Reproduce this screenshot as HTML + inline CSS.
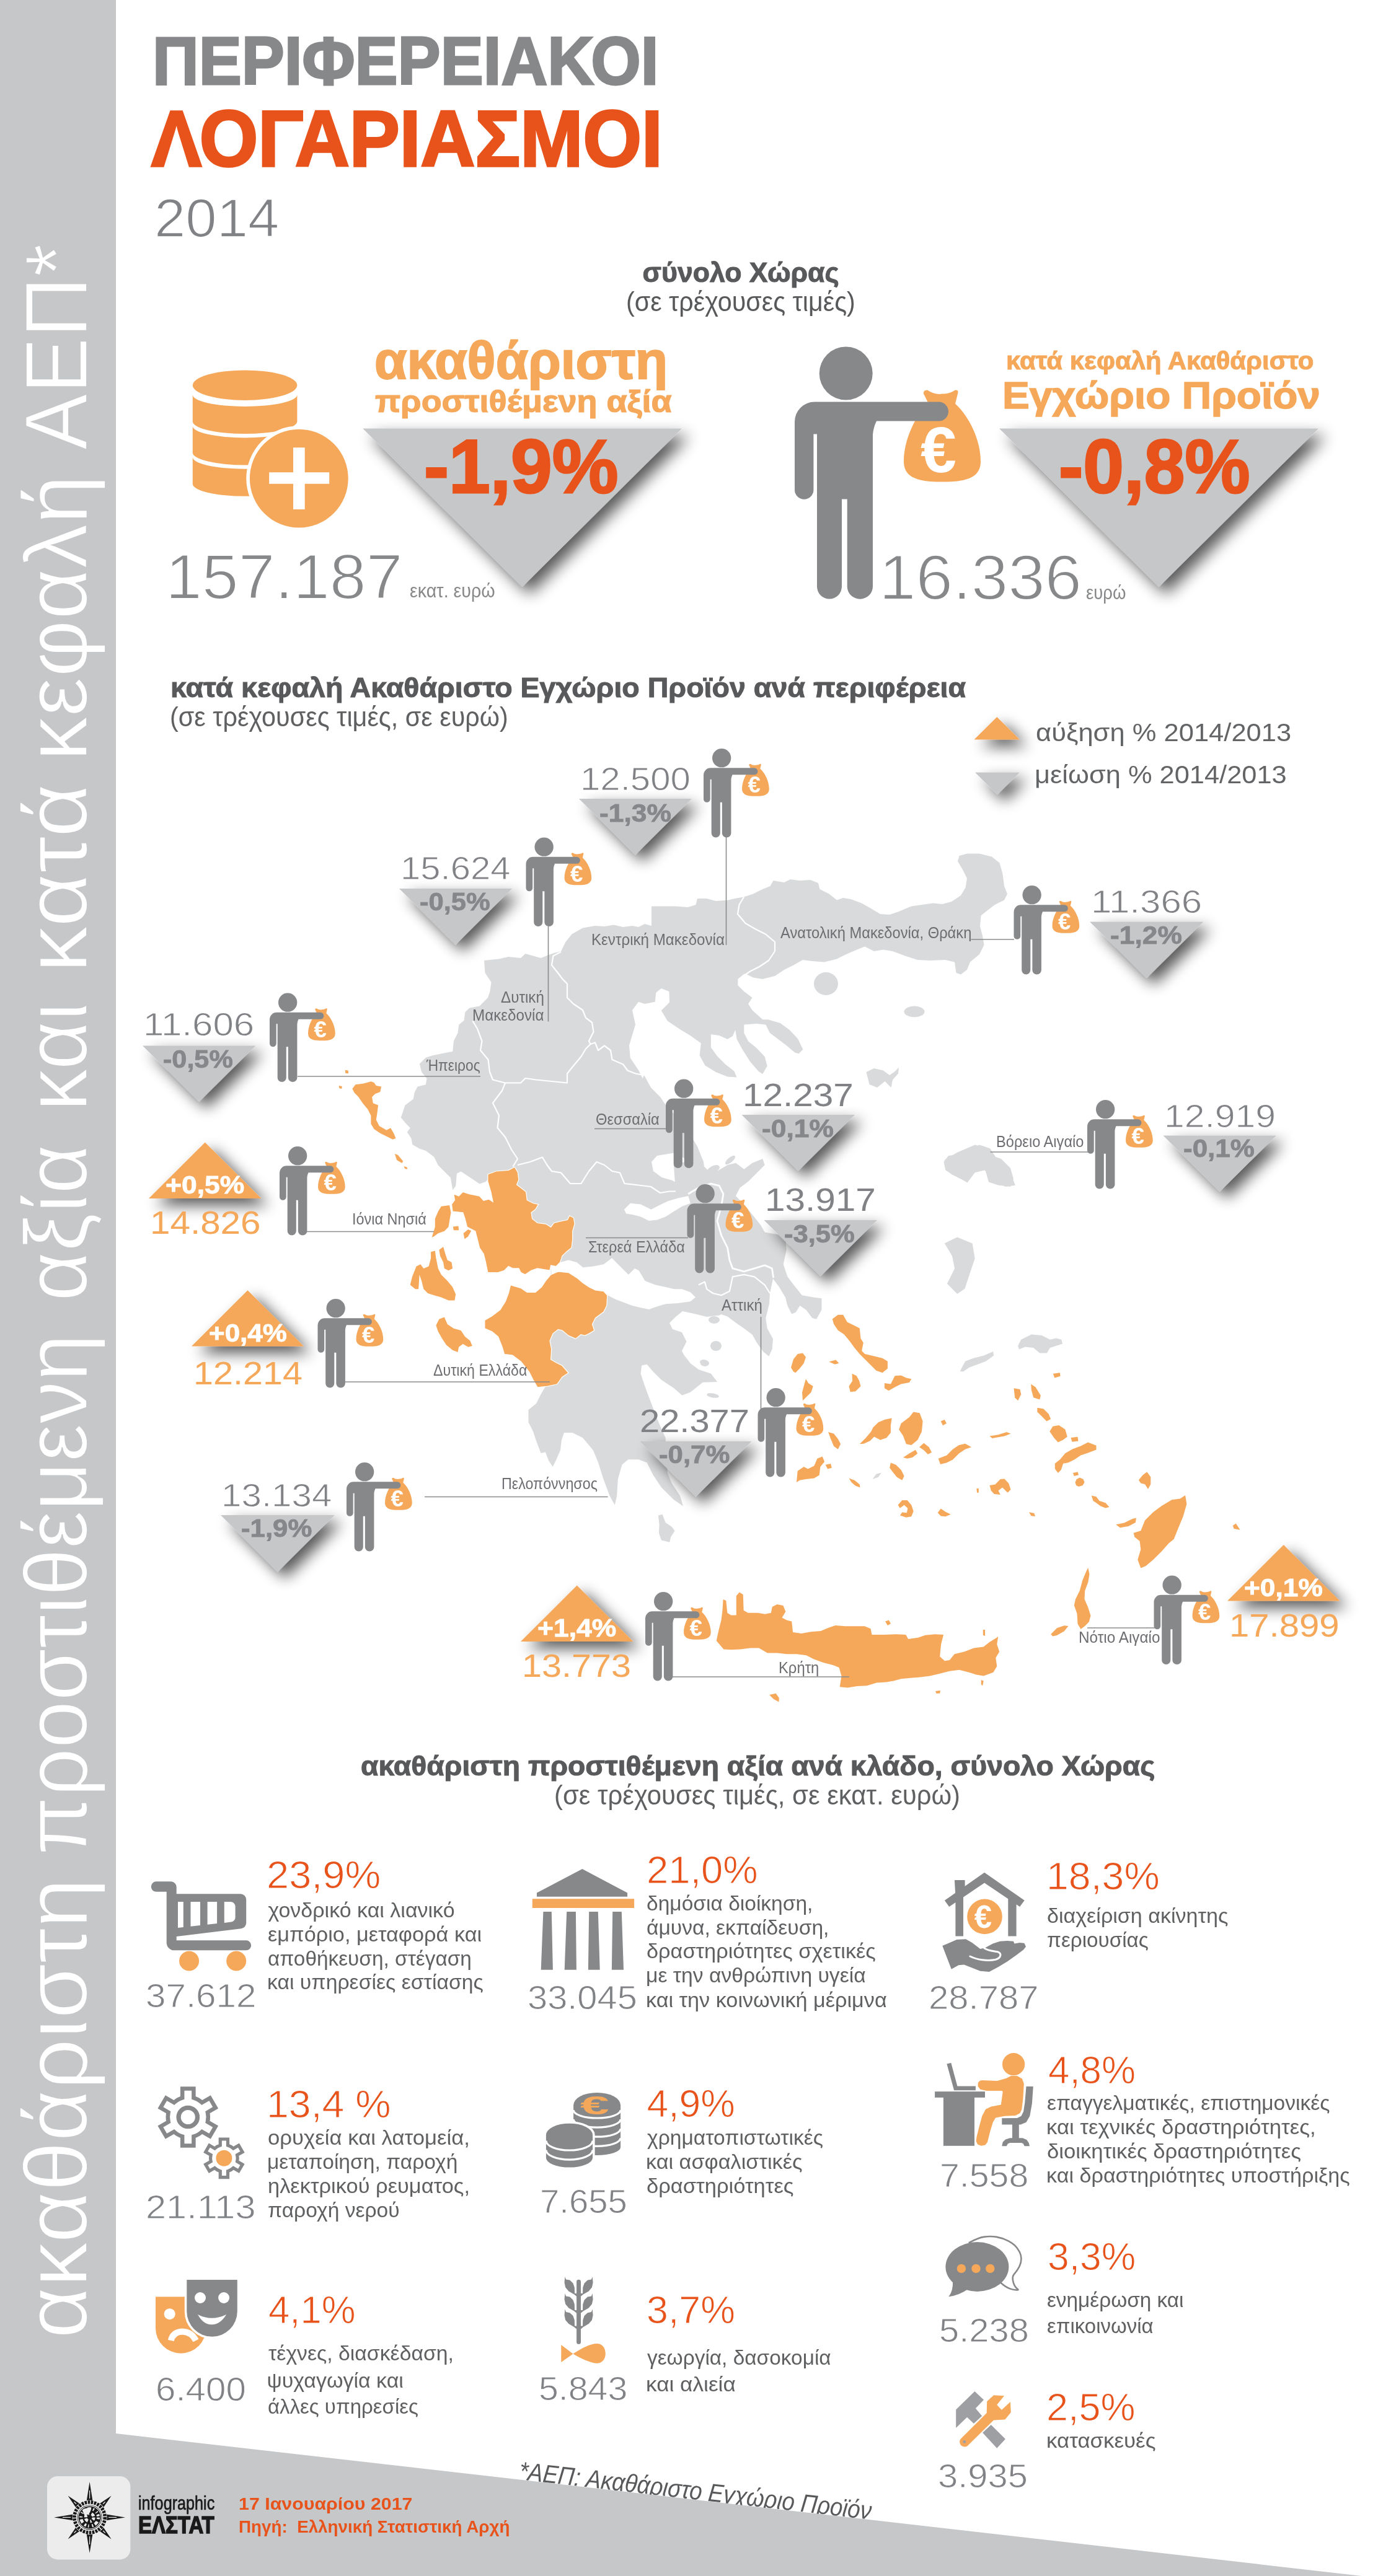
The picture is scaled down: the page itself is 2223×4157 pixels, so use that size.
<!DOCTYPE html>
<html lang="el"><head><meta charset="utf-8"><title>Περιφερειακοί Λογαριασμοί 2014</title>
<style>
html,body{margin:0;padding:0;background:#fff;}
body{width:2223px;height:4157px;position:relative;overflow:hidden;font-family:"Liberation Sans",sans-serif;}
.t{position:absolute;white-space:nowrap;line-height:1;transform-origin:0 0;font-family:"Liberation Sans",sans-serif;}
svg{position:absolute;left:0;top:0;}
.ly{position:absolute;left:0;top:0;width:2223px;height:4157px;will-change:transform;}
.side{position:absolute;white-space:nowrap;line-height:1;font-family:"Liberation Sans",sans-serif;color:#fff;transform-origin:0 0;}
</style></head><body>
<div class="ly"><div class="t" style="left:840.2px;top:3967.3px;font-size:41px;color:#58595b;font-style:italic;transform:rotate(6.53deg) scaleX(0.8925);">*ΑΕΠ: Ακαθάριστο Εγχώριο Προϊόν</div></div>
<svg width="2223" height="4157" viewBox="0 0 2223 4157">
<defs>
<filter id="sh1" x="-50%" y="-80%" width="220%" height="290%"><feGaussianBlur in="SourceAlpha" stdDeviation="12.5"/><feOffset dx="11.5" dy="11"/><feComponentTransfer><feFuncA type="linear" slope="0.66"/></feComponentTransfer><feMerge><feMergeNode/><feMergeNode in="SourceGraphic"/></feMerge></filter>
<filter id="sh2" x="-30%" y="-30%" width="170%" height="170%"><feGaussianBlur in="SourceAlpha" stdDeviation="13"/><feOffset dx="12" dy="11.5"/><feComponentTransfer><feFuncA type="linear" slope="0.66"/></feComponentTransfer><feMerge><feMergeNode/><feMergeNode in="SourceGraphic"/></feMerge></filter>

<symbol id="pers" overflow="visible">
  <path fill="#f6a85a" d="M176 185 C176 150 195 110 216 92 L208 76 Q207 70 214 70 Q226 78 238 76 Q250 76 259 70 Q265 69 263 76 L259 92 C281 112 300 150 300 185 C300 212 276 218 238 218 C200 218 176 212 176 185Z"/>
  <text x="232" y="202" font-family="Liberation Sans, sans-serif" font-weight="700" font-size="104" fill="#fff" text-anchor="middle">€</text>
  <circle cx="82.7" cy="43" r="43" fill="#87888a"/>
  <path fill="#87888a" d="M0 121 A32 32 0 0 1 32 89 H232.5 A15.5 15.5 0 0 1 232.5 120 H132 Q127 130 126 142 V387 A20.6 20 0 0 1 84.7 387 V246 H76 V387 A20 20 0 0 1 36 387 V141 H30.4 V231 A15.2 15.2 0 0 1 0 231 Z"/>
</symbol></defs>
<path fill="#c6c7c9" d="M0 0 H187 V3927 L2223 4160 V4157 H0Z"/>
<path d="M781.0 1550.0 L805.0 1547.5 L820.0 1544.0 L840.0 1546.0 L847.5 1539.0 L860.0 1542.5 L872.5 1546.0 L885.0 1541.0 L895.0 1537.5 L905.0 1535.0 L912.5 1520.0 L922.5 1507.5 L940.0 1497.5 L960.0 1494.0 L975.0 1495.0 L990.0 1492.5 L1005.0 1496.0 L1020.0 1494.0 L1030.0 1496.0 L1040.0 1491.0 L1051.0 1494.0 L1051.0 1462.5 L1090.0 1462.5 L1110.0 1464.0 L1122.5 1460.0 L1125.0 1450.0 L1140.0 1450.0 L1155.0 1454.0 L1175.0 1452.5 L1185.0 1450.0 L1200.0 1447.5 L1215.0 1442.5 L1230.0 1435.0 L1242.5 1430.0 L1247.5 1421.0 L1265.0 1424.0 L1275.0 1419.0 L1290.0 1421.0 L1307.5 1420.0 L1320.0 1425.0 L1322.5 1435.0 L1337.5 1442.5 L1350.0 1452.5 L1360.0 1449.0 L1372.5 1451.0 L1390.0 1457.5 L1405.0 1466.0 L1420.0 1475.0 L1435.0 1476.0 L1450.0 1471.0 L1470.0 1462.5 L1487.5 1460.0 L1505.0 1457.5 L1520.0 1459.0 L1535.0 1455.0 L1550.0 1445.0 L1557.5 1432.5 L1560.0 1417.5 L1552.5 1402.5 L1545.0 1390.0 L1547.5 1381.0 L1560.0 1377.5 L1580.0 1377.5 L1600.0 1382.5 L1612.5 1392.5 L1617.5 1410.0 L1620.0 1430.0 L1625.0 1442.5 L1620.0 1452.5 L1605.0 1460.0 L1595.0 1467.5 L1582.5 1477.5 L1581.0 1495.0 L1585.0 1510.0 L1587.5 1525.0 L1580.0 1540.0 L1565.0 1552.5 L1560.0 1565.0 L1550.0 1572.5 L1542.5 1570.0 L1540.0 1552.5 L1525.0 1549.0 L1500.0 1550.0 L1480.0 1549.0 L1460.0 1542.5 L1440.0 1535.0 L1425.0 1532.5 L1410.0 1535.0 L1395.0 1527.5 L1382.5 1532.5 L1365.0 1540.0 L1350.0 1547.5 L1330.0 1552.5 L1310.0 1551.0 L1295.0 1549.0 L1280.0 1557.5 L1265.0 1565.0 L1250.0 1575.0 L1230.0 1580.0 L1215.0 1577.5 L1200.0 1570.0 L1248.7 1536.7 L1243.7 1553.4 L1230.3 1560.1 L1217.0 1570.1 L1200.3 1571.7 L1190.3 1580.1 L1190.3 1590.1 L1200.3 1600.1 L1213.6 1610.1 L1207.0 1620.1 L1213.6 1630.2 L1230.3 1645.2 L1238.7 1645.2 L1258.7 1650.9 L1273.7 1661.9 L1287.1 1676.2 L1295.4 1693.6 L1288.7 1700.3 L1282.1 1698.6 L1270.4 1688.6 L1255.4 1676.9 L1242.0 1666.9 L1235.3 1653.5 L1220.3 1651.9 L1200.3 1653.5 L1200.3 1666.9 L1207.0 1680.2 L1220.3 1690.9 L1233.7 1705.3 L1237.7 1720.3 L1230.3 1733.0 L1224.3 1729.6 L1210.3 1713.6 L1197.6 1693.6 L1188.6 1676.9 L1186.3 1661.9 L1181.9 1671.9 L1173.6 1676.9 L1160.2 1670.9 L1146.9 1669.2 L1146.9 1690.2 L1156.9 1704.3 L1170.2 1717.6 L1184.3 1728.6 L1188.6 1738.6 L1173.6 1737.6 L1155.2 1730.3 L1137.5 1719.6 L1128.5 1702.9 L1130.9 1683.6 L1113.5 1670.9 L1096.8 1660.9 L1076.8 1647.5 L1066.8 1630.8 L1080.1 1617.5 L1079.4 1600.1 L1066.8 1595.1 L1058.4 1601.8 L1056.7 1616.8 L1040.1 1620.1 L1030.0 1616.8 L1020.0 1630.2 L1025.0 1653.5 L1015.0 1686.9 L1016.7 1706.9 L1030.0 1727.0 L1036.7 1740.3 L1039.0 1735.0 L1050.0 1755.0 L1065.0 1770.0 L1075.0 1785.0 L1090.0 1800.0 L1110.0 1825.0 L1125.0 1850.0 L1135.0 1875.0 L1137.5 1895.0 L1125.0 1902.5 L1115.0 1890.0 L1105.0 1870.0 L1090.0 1860.0 L1075.0 1862.5 L1060.0 1865.0 L1051.0 1875.0 L1054.0 1890.0 L1067.5 1900.0 L1085.0 1905.0 L1097.5 1912.5 L1090.0 1922.5 L1086.8 1880.0 L1110.2 1873.4 L1133.5 1880.0 L1146.9 1893.4 L1156.9 1890.0 L1173.6 1880.0 L1186.9 1876.7 L1200.3 1886.7 L1213.6 1876.7 L1230.3 1870.0 L1233.7 1880.0 L1220.3 1893.4 L1207.0 1906.7 L1193.6 1916.7 L1186.9 1930.1 L1200.3 1943.5 L1213.6 1960.1 L1227.0 1976.8 L1233.7 1988.5 L1253.7 1991.9 L1267.0 1993.5 L1268.7 2016.9 L1263.7 2040.3 L1270.4 2060.3 L1280.4 2073.6 L1293.8 2090.3 L1313.8 2093.7 L1325.5 2095.3 L1325.5 2113.7 L1317.1 2128.7 L1310.4 2127.0 L1300.4 2113.7 L1290.4 2107.0 L1283.7 2117.7 L1277.1 2120.4 L1270.4 2107.0 L1267.0 2093.7 L1257.0 2077.0 L1247.0 2063.6 L1242.0 2087.0 L1241.0 2103.7 L1235.3 2127.0 L1237.7 2143.7 L1247.0 2160.4 L1245.7 2177.1 L1240.3 2188.8 L1231.0 2181.1 L1221.0 2167.1 L1213.6 2153.8 L1200.3 2143.7 L1186.9 2134.4 L1173.6 2124.4 L1163.6 2121.0 L1153.6 2125.4 L1160.0 2122.5 L1140.0 2125.0 L1120.0 2120.0 L1101.0 2116.0 L1090.0 2125.0 L1080.0 2135.0 L1085.0 2145.0 L1100.0 2150.0 L1107.5 2165.0 L1100.0 2180.0 L1107.5 2195.0 L1100.3 2180.0 L1103.7 2186.7 L1113.7 2200.0 L1127.0 2210.0 L1147.0 2216.7 L1157.1 2230.1 L1133.7 2230.7 L1113.7 2246.8 L1100.3 2251.8 L1087.0 2240.1 L1066.9 2226.7 L1053.6 2213.4 L1043.6 2201.7 L1035.2 2203.4 L1033.6 2216.7 L1040.2 2236.7 L1050.2 2263.5 L1060.3 2290.2 L1073.6 2320.2 L1076.9 2376.9 L1083.6 2393.6 L1097.0 2413.7 L1102.0 2430.4 L1087.0 2420.3 L1066.9 2400.3 L1053.6 2380.3 L1043.6 2360.3 L1030.2 2355.3 L1013.5 2355.3 L1003.5 2363.6 L996.8 2387.0 L995.2 2413.7 L991.8 2428.7 L983.5 2413.7 L973.5 2387.0 L965.1 2360.3 L956.8 2340.2 L940.1 2320.2 L923.4 2311.9 L910.0 2311.9 L906.0 2323.5 L904.0 2340.2 L896.7 2356.9 L891.7 2366.9 L885.0 2356.9 L880.0 2343.6 L872.5 2345.0 L865.0 2325.0 L860.0 2310.0 L852.5 2295.0 L852.5 2275.0 L865.0 2265.0 L872.5 2250.0 L880.0 2237.5 L867.0 2238.8 L860.3 2227.2 L853.6 2213.8 L840.3 2197.1 L826.9 2187.1 L813.6 2185.4 L810.2 2173.8 L803.6 2157.1 L793.6 2148.7 L781.9 2143.7 L781.9 2130.4 L793.6 2123.7 L806.9 2113.7 L815.3 2100.3 L820.3 2087.0 L823.6 2073.6 L840.3 2078.6 L850.3 2085.3 L863.7 2085.3 L873.7 2076.9 L880.3 2066.9 L888.7 2056.9 L888.7 2041.9 L887.0 2050.2 L877.0 2048.6 L867.0 2046.9 L857.0 2050.2 L847.0 2056.9 L840.3 2053.6 L836.9 2046.9 L826.9 2046.9 L820.3 2043.6 L813.6 2050.2 L803.6 2053.6 L786.9 2053.6 L783.5 2036.9 L780.2 2023.5 L773.5 2013.5 L770.2 2000.2 L766.8 1986.8 L753.5 1980.1 L750.2 1966.8 L746.8 1956.8 L730.1 1955.1 L728.5 1943.4 L733.5 1936.7 L731.8 1926.7 L740.1 1930.1 L746.8 1923.4 L756.8 1926.7 L773.5 1930.1 L780.2 1937.4 L788.5 1935.1 L795.2 1939.4 L791.9 1923.4 L786.9 1906.7 L786.9 1895.0 L788.7 1900.4 L783.7 1907.1 L773.7 1910.4 L763.7 1903.8 L753.6 1897.1 L743.6 1890.4 L736.9 1893.8 L735.3 1913.8 L730.3 1920.5 L726.9 1900.4 L716.9 1890.4 L706.9 1880.4 L700.2 1867.0 L686.9 1857.0 L676.9 1853.7 L665.2 1847.0 L663.5 1837.0 L656.8 1827.0 L661.8 1820.3 L655.2 1813.6 L646.8 1803.6 L650.2 1793.6 L653.5 1783.6 L666.8 1773.6 L668.5 1763.6 L673.5 1753.6 L686.9 1750.2 L688.5 1740.2 L680.2 1730.2 L676.9 1716.8 L686.9 1706.8 L696.9 1703.5 L713.6 1700.1 L730.3 1696.8 L731.9 1680.1 L738.6 1666.8 L740.3 1653.4 L748.6 1646.7 L750.3 1633.4 L757.0 1626.7 L773.7 1623.4 L787.0 1610.0 L790.4 1600.0 L792.5 1585.0 L782.5 1570.0Z" fill="#d9dadb" />
<path d="M888.7 2042.6 L897.0 2043.6 L903.7 2036.9 L917.1 2033.6 L930.4 2036.9 L940.4 2045.2 L957.1 2043.6 L973.8 2040.2 L987.2 2030.2 L993.8 2036.9 L1003.9 2046.9 L1013.9 2056.9 L1023.9 2046.9 L1030.6 2050.2 L1040.6 2066.9 L1057.3 2073.6 L1074.0 2076.9 L1087.3 2080.3 L1100.3 2080.3 L1113.7 2085.3 L1122.0 2093.6 L1113.7 2100.3 L1093.7 2103.0 L1073.6 2104.3 L1060.3 2108.3 L1046.9 2113.0 L1033.6 2110.3 L1020.2 2107.0 L1006.9 2102.0 L993.5 2097.0 L980.2 2090.3 L979.8 2091.0 L973.8 2083.6 L960.5 2082.0 L950.4 2076.9 L940.4 2070.3 L930.4 2061.9 L917.1 2053.6 L900.4 2051.9 L889.7 2056.3Z" fill="#fff" />
<path d="M1006.9 1951.8 L1016.9 1941.8 L1033.6 1943.4 L1050.3 1951.8 L1063.6 1945.1 L1077.0 1938.4 L1093.7 1933.4 L1110.4 1930.1 L1113.7 1941.8 L1100.3 1946.8 L1087.0 1955.1 L1073.6 1963.5 L1060.3 1968.5 L1046.9 1970.1 L1033.6 1963.5 L1020.2 1960.1 L1010.2 1958.4Z" fill="#fff" />
<path d="M1110.2 1926.8 L1126.8 1916.7 L1146.9 1910.1 L1160.2 1913.4 L1166.9 1926.8 L1163.6 1946.8 L1156.9 1970.2 L1163.6 1993.5 L1173.6 2013.6 L1176.9 2033.6 L1181.9 2046.9 L1200.3 2051.9 L1217.0 2046.9 L1233.7 2041.9 L1245.4 2046.9 L1247.7 2062.0" fill="none" stroke="#fff" stroke-width="2.8" stroke-linejoin="round"/>
<path d="M786.9 1895.0 L800.2 1890.0 L820.3 1888.3 L830.3 1883.3 L835.3 1891.7 L836.9 1903.4 L833.6 1911.7 L840.3 1916.7 L848.6 1923.4 L850.3 1936.7 L860.3 1941.8 L868.7 1943.4 L863.7 1951.8 L857.0 1956.8 L858.6 1966.8 L867.0 1973.5 L880.3 1975.1 L888.7 1980.1 L893.7 1973.5 L907.0 1970.1 L915.4 1968.5 L918.7 1961.8 L925.4 1965.1 L927.1 1975.1 L923.7 1986.8 L923.7 2000.2 L922.1 2013.5 L913.7 2020.2 L907.0 2026.9 L903.7 2036.9 L897.0 2043.6 L888.7 2041.9 L887.0 2050.2 L877.0 2048.6 L867.0 2046.9 L857.0 2050.2 L847.0 2056.9 L840.3 2053.6 L836.9 2046.9 L826.9 2046.9 L820.3 2043.6 L813.6 2050.2 L803.6 2053.6 L786.9 2053.6 L783.5 2036.9 L780.2 2023.5 L773.5 2013.5 L770.2 2000.2 L766.8 1986.8 L753.5 1980.1 L750.2 1966.8 L746.8 1956.8 L730.1 1955.1 L728.5 1943.4 L733.5 1936.7 L731.8 1926.7 L740.1 1930.1 L746.8 1923.4 L756.8 1926.7 L773.5 1930.1 L780.2 1937.4 L788.5 1935.1 L795.2 1939.4 L791.9 1923.4 L786.9 1906.7Z" fill="#f6a85a" stroke="#fff" stroke-width="1.2"/>
<path d="M823.6 2073.6 L840.3 2078.6 L850.3 2085.3 L863.7 2085.3 L873.7 2076.9 L880.3 2066.9 L888.7 2056.9 L900.4 2051.9 L917.1 2053.6 L930.4 2061.9 L940.4 2070.3 L950.4 2076.9 L960.5 2082.0 L973.8 2083.6 L979.8 2090.3 L978.8 2107.0 L973.8 2117.0 L960.5 2127.0 L955.5 2137.0 L958.8 2147.0 L950.4 2152.1 L943.8 2155.4 L937.1 2153.7 L928.7 2160.4 L917.1 2155.4 L907.0 2147.0 L900.4 2145.4 L892.0 2152.1 L887.0 2163.7 L889.7 2177.1 L888.7 2193.8 L897.0 2198.8 L907.0 2203.8 L917.1 2215.5 L907.0 2222.2 L898.7 2233.8 L883.7 2237.2 L867.0 2238.8 L860.3 2227.2 L853.6 2213.8 L840.3 2197.1 L826.9 2187.1 L813.6 2185.4 L810.2 2173.8 L803.6 2157.1 L793.6 2148.7 L781.9 2143.7 L781.9 2130.4 L793.6 2123.7 L806.9 2113.7 L815.3 2100.3 L820.3 2087.0Z" fill="#f6a85a" stroke="#fff" stroke-width="1.2"/>
<path d="M905.0 1536.0 L892.5 1542.5 L890.0 1557.5 L900.0 1570.0 L907.5 1580.0 L915.0 1587.5 L915.0 1610.0 L925.0 1620.0 L940.0 1630.0 L945.0 1642.5 L955.0 1650.0 L957.5 1665.0 L950.0 1680.0 L952.5 1685.0" fill="none" stroke="#fff" stroke-width="2.2" stroke-linejoin="round"/>
<path d="M952.5 1685.0 L960.0 1682.5 L965.0 1695.0 L975.0 1687.5 L985.0 1695.0 L987.5 1710.0 L1005.0 1717.5 L1012.5 1727.5 L1025.0 1732.5 L1039.0 1735.0" fill="none" stroke="#fff" stroke-width="2.2" stroke-linejoin="round"/>
<path d="M952.5 1685.0 L945.0 1692.5 L937.5 1705.0 L925.0 1720.0 L915.0 1732.5 L915.0 1747.5 L890.0 1745.0 L865.0 1742.5 L847.5 1740.0 L840.0 1747.5 L815.0 1747.5" fill="none" stroke="#fff" stroke-width="2.2" stroke-linejoin="round"/>
<path d="M762.5 1647.5 L770.0 1660.0 L777.5 1680.0 L775.0 1695.0 L787.5 1710.0 L790.0 1730.0 L795.0 1742.5 L815.0 1747.5" fill="none" stroke="#fff" stroke-width="2.2" stroke-linejoin="round"/>
<path d="M815.0 1747.5 L810.0 1760.0 L795.0 1780.0 L805.0 1800.0 L802.5 1820.0 L815.0 1835.0 L825.0 1855.0 L835.0 1870.0 L827.5 1882.5" fill="none" stroke="#fff" stroke-width="2.2" stroke-linejoin="round"/>
<path d="M835.0 1880.0 L855.0 1875.0 L875.0 1867.5 L882.5 1880.0 L890.0 1890.0 L905.0 1892.5 L920.0 1910.0 L937.5 1910.0 L950.0 1890.0 L962.5 1875.0 L975.0 1880.0 L987.5 1890.0 L1000.0 1892.5 L1007.5 1910.0 L1030.0 1912.5 L1050.0 1915.0 L1065.0 1925.0 L1080.0 1922.5 L1090.0 1922.5" fill="none" stroke="#fff" stroke-width="2.2" stroke-linejoin="round"/>
<path d="M1200.0 1447.5 L1192.5 1460.0 L1190.0 1475.0 L1202.5 1490.0 L1220.0 1500.0 L1235.0 1507.5 L1250.0 1520.0 L1250.0 1535.0 L1240.0 1550.0 L1225.0 1560.0 L1210.0 1567.5 L1192.5 1580.0" fill="none" stroke="#fff" stroke-width="2.2" stroke-linejoin="round"/>
<path d="M1126.8 2073.6 L1136.9 2068.6 L1140.2 2080.3 L1150.2 2087.0 L1163.6 2090.3 L1176.9 2083.7 L1181.9 2060.3 L1200.3 2056.9 L1217.0 2060.3 L1233.7 2073.6 L1242.0 2087.0" fill="none" stroke="#fff" stroke-width="2.2" stroke-linejoin="round"/>
<ellipse cx="1332.5" cy="1587.5" rx="19.5" ry="18.5" fill="#d9dadb" transform="rotate(0 1332.5 1587.5)"/>
<ellipse cx="1475" cy="1632.5" rx="16.5" ry="9" fill="#d9dadb" transform="rotate(0 1475 1632.5)"/>
<path d="M1522.5 1875.0 L1530.0 1865.0 L1550.0 1862.5 L1565.0 1855.0 L1580.0 1847.5 L1595.0 1852.5 L1600.0 1865.0 L1615.0 1870.0 L1630.0 1885.0 L1635.0 1902.5 L1630.0 1915.0 L1610.0 1912.5 L1595.0 1907.5 L1590.0 1890.0 L1580.0 1880.0 L1567.5 1885.0 L1562.5 1900.0 L1550.0 1902.5 L1535.0 1895.0 L1525.0 1887.5Z" fill="#d9dadb" />
<path d="M1397.5 1730.0 L1410.0 1724.0 L1425.0 1727.5 L1435.0 1735.0 L1442.5 1730.0 L1450.0 1722.5 L1449.0 1732.5 L1440.0 1742.5 L1437.5 1755.0 L1427.5 1745.0 L1415.0 1755.0 L1402.5 1750.0 L1400.0 1740.0Z" fill="#d9dadb" />
<path d="M1523.8 2006.4 L1544.2 1996.6 L1568.6 2006.4 L1572.7 2030.8 L1564.5 2055.3 L1556.4 2079.7 L1544.2 2087.9 L1527.9 2071.6 L1540.1 2047.1 L1536.0 2026.8Z" fill="#d9dadb" />
<ellipse cx="1123" cy="1893" rx="9" ry="5" fill="#d9dadb" transform="rotate(-20 1123 1893)"/>
<ellipse cx="1150" cy="1888" rx="12" ry="6" fill="#d9dadb" transform="rotate(-30 1150 1888)"/>
<ellipse cx="1178" cy="1872" rx="10" ry="4" fill="#d9dadb" transform="rotate(-40 1178 1872)"/>
<path d="M1061.9 2445.4 L1068.6 2443.7 L1073.6 2457.1 L1083.6 2463.7 L1088.6 2470.4 L1082.0 2480.4 L1080.3 2488.8 L1066.9 2485.4 L1062.9 2473.8 L1063.6 2460.4Z" fill="#d9dadb" />
<ellipse cx="1152" cy="2130" rx="9" ry="6" fill="#d9dadb" transform="rotate(0 1152 2130)"/>
<ellipse cx="1155" cy="2172" rx="9" ry="8" fill="#d9dadb" transform="rotate(0 1155 2172)"/>
<ellipse cx="1137" cy="2200" rx="7" ry="5" fill="#d9dadb" transform="rotate(0 1137 2200)"/>
<ellipse cx="1135" cy="2198" rx="6" ry="4" fill="#d9dadb" transform="rotate(0 1135 2198)"/>
<ellipse cx="1150" cy="2252" rx="10" ry="3.5" fill="#d9dadb" transform="rotate(10 1150 2252)"/>
<path d="M1523.8 1871.9 L1544.2 1859.7 L1572.7 1847.5 L1597.1 1853.2 L1609.4 1871.9 L1629.7 1892.3 L1637.9 1912.7 L1621.6 1915.1 L1605.3 1904.5 L1589.0 1888.2 L1572.7 1892.3 L1560.5 1908.6 L1540.1 1896.4 L1525.4 1888.2Z" fill="#d9dadb" />
<path d="M1548.7 2212.8 L1557.1 2196.8 L1570.4 2191.8 L1587.1 2187.5 L1602.1 2181.1 L1603.1 2187.5 L1590.4 2196.8 L1577.1 2201.8 L1563.7 2206.8 L1553.7 2213.5Z" fill="#d9dadb" />
<path d="M1642.2 2171.8 L1647.2 2161.8 L1663.9 2153.4 L1680.6 2155.1 L1693.9 2161.8 L1703.9 2159.4 L1712.3 2161.8 L1714.0 2168.4 L1703.9 2171.8 L1693.9 2175.1 L1688.9 2183.5 L1677.2 2183.5 L1667.2 2175.1 L1653.9 2173.4 L1643.9 2177.4Z" fill="#d9dadb" />
<path d="M1155.7 2647.8 L1159.6 2630.1 L1163.5 2614.5 L1165.5 2598.8 L1166.6 2581.1 L1171.3 2583.1 L1173.3 2602.7 L1179.2 2606.6 L1187.8 2606.6 L1187.8 2575.3 L1192.9 2569.4 L1198.8 2573.3 L1199.6 2598.8 L1206.6 2602.7 L1222.3 2602.7 L1234.0 2604.7 L1243.8 2602.7 L1245.8 2592.9 L1253.6 2589.0 L1263.4 2590.9 L1267.4 2600.7 L1261.5 2610.5 L1269.3 2614.5 L1277.2 2616.4 L1279.1 2634.0 L1292.8 2636.0 L1308.5 2633.3 L1324.2 2632.1 L1335.9 2627.0 L1347.7 2623.1 L1363.4 2624.3 L1379.0 2624.3 L1394.7 2624.3 L1404.5 2628.2 L1406.5 2638.0 L1426.1 2638.0 L1445.7 2637.2 L1461.3 2638.0 L1465.2 2645.0 L1480.9 2642.7 L1492.7 2638.7 L1508.4 2637.2 L1522.1 2638.0 L1518.1 2653.6 L1516.2 2673.2 L1524.0 2680.3 L1531.9 2679.1 L1539.7 2669.3 L1555.4 2665.4 L1571.1 2659.5 L1586.7 2657.6 L1596.5 2649.7 L1606.3 2643.8 L1610.2 2641.1 L1608.3 2653.6 L1612.2 2665.4 L1606.3 2675.2 L1608.3 2688.9 L1602.4 2698.7 L1586.7 2704.6 L1575.0 2702.6 L1563.2 2698.7 L1547.5 2694.8 L1531.9 2696.7 L1516.2 2700.7 L1500.5 2704.6 L1484.8 2706.5 L1469.2 2707.7 L1453.5 2709.3 L1441.7 2712.4 L1430.0 2714.4 L1414.3 2715.6 L1398.6 2720.3 L1383.0 2721.0 L1367.3 2723.4 L1354.7 2722.2 L1357.5 2704.6 L1353.6 2690.9 L1343.8 2686.9 L1328.1 2683.0 L1312.4 2677.2 L1300.7 2671.3 L1285.0 2669.3 L1269.3 2669.3 L1253.6 2667.4 L1238.0 2667.4 L1224.3 2659.5 L1210.5 2659.5 L1194.9 2661.5 L1179.2 2662.3 L1167.4 2661.5Z" fill="#f6a85a" />
<path d="M1241.1 2735.1 L1251.7 2732.8 L1256.8 2739.9 L1256.4 2746.5 L1247.8 2741.8Z" fill="#f6a85a" />
<path d="M1428.0 2616.4 L1433.9 2614.5 L1437.0 2620.3 L1431.9 2623.1Z" fill="#f6a85a" />
<path d="M1509.1 2728.9 L1517.0 2728.1 L1516.2 2732.8 L1510.3 2732.8Z" fill="#f6a85a" />
<path d="M1582.8 2710.9 L1586.7 2712.4 L1585.2 2720.3 L1582.8 2718.3Z" fill="#f6a85a" />
<path d="M1585.9 2630.1 L1589.1 2630.1 L1589.1 2639.9 L1585.9 2638.7Z" fill="#f6a85a" />
<path d="M1342.8 2128.4 L1351.8 2121.7 L1360.1 2121.7 L1366.8 2133.4 L1380.1 2140.1 L1386.8 2143.4 L1388.5 2160.1 L1392.8 2166.8 L1390.2 2180.1 L1395.2 2185.1 L1410.2 2188.5 L1423.5 2191.8 L1431.9 2196.8 L1431.9 2208.5 L1423.5 2215.2 L1413.5 2211.8 L1403.5 2201.8 L1393.5 2191.8 L1386.8 2185.1 L1378.5 2175.1 L1370.1 2163.4 L1361.8 2153.4 L1351.8 2146.7 L1345.1 2136.7Z" fill="#f6a85a" />
<path d="M1280.0 2193.5 L1286.7 2185.1 L1295.0 2183.5 L1300.0 2190.1 L1296.7 2200.1 L1290.0 2208.5 L1283.3 2215.2 L1280.0 2213.5 L1276.0 2206.8Z" fill="#f6a85a" />
<path d="M1337.4 2197.5 L1348.4 2194.5 L1353.4 2200.1 L1346.8 2201.8Z" fill="#f6a85a" />
<path d="M1300.0 2225.2 L1304.0 2231.9 L1311.7 2236.9 L1308.4 2246.9 L1301.7 2253.6 L1295.0 2260.2 L1294.0 2246.9 L1296.7 2236.9Z" fill="#f6a85a" />
<path d="M1374.5 2216.8 L1381.8 2220.2 L1386.2 2228.5 L1388.5 2236.9 L1380.1 2245.2 L1371.8 2246.2 L1369.5 2236.9 L1375.1 2228.5Z" fill="#f6a85a" />
<path d="M1426.9 2231.9 L1436.9 2233.5 L1443.6 2220.2 L1453.6 2219.5 L1461.9 2223.5 L1470.3 2225.2 L1466.9 2230.9 L1453.6 2233.5 L1443.6 2238.5 L1433.6 2244.2 L1426.9 2240.2Z" fill="#f6a85a" />
<path d="M1336.1 2311.0 L1345.1 2313.6 L1351.8 2322.0 L1356.1 2330.3 L1351.8 2338.7 L1345.1 2333.7 L1340.1 2322.0Z" fill="#f6a85a" />
<path d="M1408.5 2303.6 L1416.9 2295.3 L1426.9 2290.9 L1438.6 2288.6 L1436.9 2300.3 L1436.9 2312.0 L1430.2 2320.3 L1420.2 2323.7 L1410.2 2318.6 L1403.5 2325.3 L1393.5 2329.7 L1386.8 2330.3 L1396.8 2320.3 L1405.2 2310.3Z" fill="#f6a85a" />
<path d="M1453.6 2296.9 L1466.9 2286.9 L1473.6 2278.6 L1483.6 2280.3 L1488.6 2293.6 L1487.0 2310.3 L1480.3 2323.7 L1470.3 2332.0 L1461.9 2330.3 L1456.9 2317.0 L1450.2 2307.0Z" fill="#f6a85a" />
<path d="M1286.7 2373.7 L1296.7 2367.0 L1303.4 2370.4 L1313.4 2365.4 L1318.4 2353.7 L1326.7 2350.4 L1330.1 2358.7 L1323.4 2367.0 L1321.7 2380.4 L1313.4 2385.4 L1300.0 2387.1 L1290.0 2388.7 L1285.0 2392.1Z" fill="#f6a85a" />
<path d="M1331.7 2363.7 L1340.1 2362.0 L1341.8 2368.7 L1335.1 2370.4Z" fill="#f6a85a" />
<path d="M1369.5 2385.4 L1378.5 2388.7 L1386.8 2395.4 L1387.5 2400.4 L1380.1 2397.8 L1373.5 2392.1Z" fill="#f6a85a" />
<path d="M1436.9 2360.4 L1445.2 2363.7 L1453.6 2372.1 L1458.6 2382.1 L1455.3 2388.7 L1446.9 2383.7 L1440.2 2375.4 L1435.2 2368.7Z" fill="#f6a85a" />
<path d="M1456.9 2352.0 L1466.9 2345.4 L1476.9 2339.7 L1480.3 2345.4 L1471.9 2352.0 L1463.6 2353.7Z" fill="#f6a85a" />
<path d="M1483.0 2335.3 L1490.3 2328.7 L1498.6 2335.3 L1503.0 2343.7 L1497.0 2347.0 L1490.3 2340.3Z" fill="#f6a85a" />
<path d="M1513.7 2353.7 L1527.0 2348.7 L1537.0 2338.7 L1547.0 2332.0 L1557.1 2329.7 L1567.1 2335.3 L1557.1 2338.7 L1547.0 2345.4 L1537.0 2355.4 L1527.0 2360.4 L1517.0 2363.0Z" fill="#f6a85a" />
<path d="M1448.6 2428.8 L1455.3 2421.1 L1463.6 2421.1 L1470.3 2428.8 L1473.6 2438.8 L1470.3 2447.2 L1461.9 2448.8 L1451.9 2445.5 L1455.3 2440.5 L1462.9 2441.2 L1464.3 2433.8 L1458.6 2428.8 L1451.9 2433.8Z" fill="#f6a85a" />
<path d="M1512.7 2441.2 L1517.7 2434.5 L1525.4 2439.8 L1533.7 2443.8 L1525.4 2447.2 L1517.7 2446.5Z" fill="#f6a85a" />
<path d="M1596.5 2397.1 L1605.5 2395.4 L1613.8 2387.1 L1620.5 2386.4 L1627.2 2393.8 L1630.5 2403.8 L1625.5 2408.8 L1617.1 2400.4 L1610.5 2405.4 L1613.8 2412.1 L1603.8 2411.1 L1598.8 2405.4Z" fill="#f6a85a" />
<path d="M1575.4 2402.1 L1578.8 2402.1 L1578.8 2408.8 L1576.1 2408.8Z" fill="#f6a85a" />
<path d="M1517.7 2293.6 L1523.7 2290.9 L1527.0 2296.9 L1521.0 2300.3Z" fill="#f6a85a" />
<path d="M1596.5 2317.6 L1610.5 2315.3 L1623.8 2311.0 L1630.5 2313.6 L1620.5 2317.6 L1600.5 2321.0Z" fill="#f6a85a" />
<path d="M1635.5 2240.2 L1645.5 2241.9 L1647.2 2250.2 L1642.2 2260.2 L1637.2 2255.2Z" fill="#f6a85a" />
<path d="M1663.2 2233.5 L1670.6 2238.5 L1678.9 2251.9 L1677.2 2258.6 L1667.2 2255.2 L1663.9 2243.5Z" fill="#f6a85a" />
<path d="M1698.9 2216.8 L1709.9 2215.2 L1710.6 2220.8 L1701.3 2223.5Z" fill="#f6a85a" />
<path d="M1673.4 2271.7 L1683.4 2273.4 L1691.7 2281.7 L1695.1 2290.1 L1688.4 2293.4 L1680.1 2285.1 L1673.4 2278.4Z" fill="#f6a85a" />
<path d="M1693.4 2310.1 L1698.4 2301.8 L1708.4 2300.1 L1718.4 2306.8 L1721.8 2318.4 L1715.1 2323.5 L1706.8 2327.5 L1700.1 2320.1Z" fill="#f6a85a" />
<path d="M1727.5 2320.1 L1738.5 2318.8 L1739.5 2325.5 L1729.5 2326.8Z" fill="#f6a85a" />
<path d="M1701.8 2361.8 L1710.1 2355.2 L1718.4 2345.2 L1730.1 2338.5 L1743.5 2333.5 L1755.2 2327.5 L1768.5 2332.8 L1768.5 2339.5 L1756.8 2344.1 L1743.5 2348.5 L1733.5 2355.2 L1723.5 2360.2 L1715.1 2361.8 L1711.8 2371.9 L1706.8 2376.9 L1701.8 2370.2Z" fill="#f6a85a" />
<path d="M1734.5 2391.9 L1736.8 2386.9 L1741.8 2384.5 L1747.5 2386.9 L1749.5 2391.9 L1746.8 2396.9 L1740.1 2398.9 L1736.1 2396.9Z" fill="#f6a85a" />
<path d="M1730.8 2376.9 L1738.5 2375.2 L1740.1 2380.2 L1732.8 2381.9Z" fill="#f6a85a" />
<path d="M1760.8 2413.6 L1768.5 2415.3 L1773.5 2421.9 L1783.5 2425.3 L1789.5 2431.9 L1783.5 2433.6 L1775.2 2430.3 L1768.5 2425.3 L1763.5 2421.9Z" fill="#f6a85a" />
<path d="M1836.9 2388.5 L1843.6 2380.2 L1850.3 2375.2 L1856.3 2383.5 L1856.3 2395.2 L1852.0 2402.9 L1847.0 2395.2 L1840.3 2393.6Z" fill="#f6a85a" />
<path d="M1800.2 2460.3 L1813.6 2457.6 L1826.9 2451.0 L1832.9 2449.6 L1831.9 2457.0 L1820.3 2463.0 L1806.9 2465.3Z" fill="#f6a85a" />
<path d="M1912.1 2412.9 L1914.4 2426.9 L1908.7 2447.0 L1900.4 2467.0 L1893.7 2483.7 L1885.4 2490.4 L1873.7 2503.7 L1860.3 2517.1 L1848.6 2527.1 L1840.3 2530.4 L1835.3 2517.1 L1840.3 2500.4 L1838.6 2487.0 L1830.3 2480.3 L1828.6 2473.7 L1840.3 2470.3 L1847.0 2453.6 L1860.3 2440.3 L1873.7 2430.3 L1890.4 2420.3 L1903.7 2418.6Z" fill="#f6a85a" />
<path d="M1988.8 2462.0 L1993.8 2458.6 L2000.5 2468.7 L1990.5 2467.0Z" fill="#f6a85a" />
<path d="M1755.2 2529.7 L1757.5 2540.4 L1755.2 2553.8 L1750.2 2567.1 L1749.5 2580.5 L1755.2 2593.8 L1759.5 2607.2 L1756.8 2617.2 L1750.2 2623.9 L1743.5 2628.9 L1738.5 2620.5 L1737.5 2603.9 L1732.8 2590.5 L1735.1 2580.5 L1741.8 2567.1 L1746.2 2550.4 L1751.8 2537.1Z" fill="#f6a85a" />
<path d="M1695.1 2637.2 L1705.1 2627.2 L1716.8 2623.2 L1723.5 2623.9 L1716.8 2632.2 L1705.1 2638.9 L1698.4 2640.6Z" fill="#f6a85a" />
<path d="M1660.0 2440.3 L1668.4 2442.0 L1670.0 2447.0 L1663.4 2446.3Z" fill="#f6a85a" />
<path d="M568.4 1756.9 L573.4 1750.2 L586.7 1748.5 L598.4 1745.2 L603.4 1746.9 L606.8 1751.9 L615.1 1753.6 L613.4 1761.9 L605.1 1765.2 L600.1 1770.2 L601.8 1780.3 L610.1 1783.6 L608.4 1796.9 L606.8 1807.0 L611.8 1817.0 L623.5 1823.7 L630.1 1820.3 L635.1 1828.7 L638.5 1837.0 L633.5 1838.7 L623.5 1833.7 L613.4 1828.7 L603.4 1822.0 L598.4 1813.6 L598.4 1800.3 L593.4 1790.3 L585.1 1780.3 L578.4 1770.2 L571.7 1763.6Z" fill="#f6a85a" />
<path d="M556.7 1726.8 L561.7 1727.5 L562.0 1732.2 L557.4 1731.9Z" fill="#f6a85a" />
<path d="M546.7 1751.9 L551.7 1752.9 L551.3 1756.9 L547.3 1756.2Z" fill="#f6a85a" />
<path d="M636.8 1862.0 L641.8 1863.7 L650.2 1873.7 L648.5 1877.1 L640.1 1872.1Z" fill="#f6a85a" />
<path d="M651.8 1882.1 L656.8 1883.7 L656.8 1887.1 L652.8 1885.7Z" fill="#f6a85a" />
<path d="M711.8 1946.8 L725.1 1945.1 L727.5 1956.8 L725.1 1970.1 L723.5 1980.1 L716.8 1986.8 L706.8 1990.2 L700.1 1995.2 L696.7 1996.8 L701.8 1980.1 L701.8 1966.8 L706.8 1955.1Z" fill="#f6a85a" />
<path d="M730.8 1979.5 L739.5 1978.5 L740.1 1985.2 L731.8 1985.2Z" fill="#f6a85a" />
<path d="M747.5 1990.2 L755.2 1984.1 L760.2 1986.2 L755.2 1995.2 L749.5 1999.5Z" fill="#f6a85a" />
<path d="M708.4 2016.9 L715.1 2011.9 L718.4 2023.5 L721.8 2033.6 L728.5 2036.9 L730.1 2046.9 L723.5 2050.2 L716.8 2046.9 L715.1 2036.9 L710.1 2026.9Z" fill="#f6a85a" />
<path d="M695.1 2020.2 L701.8 2018.5 L703.4 2030.2 L706.8 2046.9 L711.8 2056.9 L721.8 2066.9 L730.1 2076.9 L735.1 2088.6 L733.5 2098.6 L723.5 2098.6 L711.8 2093.6 L700.1 2090.3 L690.1 2087.0 L683.4 2080.3 L680.1 2066.9 L676.7 2056.9 L675.1 2080.3 L670.0 2080.3 L661.7 2073.6 L665.0 2060.3 L671.7 2043.6 L678.4 2040.2 L683.4 2046.9 L691.7 2043.6 L695.1 2030.2Z" fill="#f6a85a" />
<path d="M703.4 2138.7 L708.4 2128.7 L716.8 2125.4 L721.8 2137.0 L731.8 2143.7 L743.5 2147.0 L750.2 2157.1 L758.5 2163.7 L761.8 2172.1 L755.2 2173.8 L746.8 2168.7 L740.1 2173.8 L738.5 2182.1 L730.1 2178.8 L720.1 2170.4 L713.4 2160.4 L706.8 2148.7Z" fill="#f6a85a" />
<path d="M1407.5 2387.1 L1413.5 2378.7 L1421.9 2376.4 L1416.9 2383.7Z" fill="#d9dadb" />
<g fill="#f6a85a">
<ellipse cx="395.1" cy="621.7" rx="84.3" ry="24.2"/>
<path d="M310.8 637 A84.3 19 0 0 0 479.40000000000003 637 V680 A84.3 20 0 0 1 310.8 680Z"/>
<path d="M310.8 687.4 A84.3 19 0 0 0 479.40000000000003 687.4 V730.4 A84.3 20 0 0 1 310.8 730.4Z"/>
<path d="M310.8 737.8 A84.3 19 0 0 0 479.40000000000003 737.8 V780.8 A84.3 20 0 0 1 310.8 780.8Z"/>
</g>
<circle cx="482.3" cy="772.2" r="85" fill="#fff"/><circle cx="482.3" cy="772.2" r="79.4" fill="#f6a85a"/>
<path fill="#fff" d="M434.2 762.3H531.2V780.8H434.2Z M473 722.3H491.7V822H473Z"/>
<path filter="url(#sh2)" fill="#c6c7c9" d="M585.3 691.5 H1100 L842.65 947.0Z"/>
<path filter="url(#sh2)" fill="#c6c7c9" d="M1612 691.5 H2127 L1869.5 947.2Z"/>
<use href="#pers" transform="translate(1282 559.6) scale(1.0)"/>
<path filter="url(#sh1)" fill="#f6a85a" d="M1571.5 1193.5 H1645 L1608.25 1156.9Z"/>
<path filter="url(#sh1)" fill="#c6c7c9" d="M1573 1246.5 H1645 L1609.0 1282.2Z"/>
<path d="M1171.5 1351 L1171.5 1525" stroke="#8a8c8e" stroke-width="1.6" fill="none"/>
<path d="M884.5 1495 L884.5 1648.5" stroke="#8a8c8e" stroke-width="1.6" fill="none"/>
<path d="M1566.5 1516 L1636 1516" stroke="#8a8c8e" stroke-width="1.6" fill="none"/>
<path d="M480 1737 L775 1737" stroke="#8a8c8e" stroke-width="1.6" fill="none"/>
<path d="M495 1987.5 L700 1987.5" stroke="#8a8c8e" stroke-width="1.6" fill="none"/>
<path d="M556.5 2230 L887 2230" stroke="#8a8c8e" stroke-width="1.6" fill="none"/>
<path d="M685 2415.5 L980.6 2415.5" stroke="#8a8c8e" stroke-width="1.6" fill="none"/>
<path d="M1227.5 2125 L1227.5 2275" stroke="#8a8c8e" stroke-width="1.6" fill="none"/>
<path d="M1084 2706 L1370 2706" stroke="#8a8c8e" stroke-width="1.6" fill="none"/>
<path d="M959 1821.5 L1076 1821.5" stroke="#8a8c8e" stroke-width="1.6" fill="none"/>
<path d="M945 1997.5 L1110 1997.5" stroke="#8a8c8e" stroke-width="1.6" fill="none"/>
<path d="M1597.5 1859 L1756 1859" stroke="#8a8c8e" stroke-width="1.6" fill="none"/>
<path d="M1754 2627 L1863 2627" stroke="#8a8c8e" stroke-width="1.6" fill="none"/>
<path filter="url(#sh1)" fill="#c6c7c9" d="M934 1289 H1116 L1025.0 1379.4Z"/>
<path filter="url(#sh1)" fill="#c6c7c9" d="M644 1434 H826 L735.0 1524.4Z"/>
<path filter="url(#sh1)" fill="#c6c7c9" d="M1758 1487.5 H1941.5 L1849.75 1578.6Z"/>
<path filter="url(#sh1)" fill="#c6c7c9" d="M230 1687.5 H412.5 L321.25 1778.1Z"/>
<path filter="url(#sh1)" fill="#c6c7c9" d="M356 2445 H540 L448.0 2536.4Z"/>
<path filter="url(#sh1)" fill="#c6c7c9" d="M1032.5 2326 H1212.5 L1122.5 2415.4Z"/>
<path filter="url(#sh1)" fill="#c6c7c9" d="M1196.5 1799 H1379 L1287.75 1889.6Z"/>
<path filter="url(#sh1)" fill="#c6c7c9" d="M1232.5 1969 H1415 L1323.75 2059.6Z"/>
<path filter="url(#sh1)" fill="#c6c7c9" d="M1876.5 1832.5 H2059 L1967.75 1923.1Z"/>
<path filter="url(#sh1)" fill="#f6a85a" d="M240 1934 H421.5 L330.75 1843.5Z"/>
<path filter="url(#sh1)" fill="#f6a85a" d="M309 2172.5 H490 L399.5 2082.3Z"/>
<path filter="url(#sh1)" fill="#f6a85a" d="M840 2649 H1021.5 L930.75 2558.5Z"/>
<path filter="url(#sh1)" fill="#f6a85a" d="M1980 2583.5 H2161.5 L2070.75 2493.0Z"/>
<use href="#pers" transform="translate(1135 1208) scale(0.3525)"/>
<use href="#pers" transform="translate(848.5 1351.5) scale(0.3525)"/>
<use href="#pers" transform="translate(1635.5 1429) scale(0.3525)"/>
<use href="#pers" transform="translate(435 1602.5) scale(0.3525)"/>
<use href="#pers" transform="translate(451 1850) scale(0.3525)"/>
<use href="#pers" transform="translate(512.5 2096) scale(0.3525)"/>
<use href="#pers" transform="translate(559 2360) scale(0.3525)"/>
<use href="#pers" transform="translate(1222.5 2240) scale(0.3525)"/>
<use href="#pers" transform="translate(1041 2569) scale(0.3525)"/>
<use href="#pers" transform="translate(1074 1741.5) scale(0.3525)"/>
<use href="#pers" transform="translate(1108.5 1911) scale(0.3525)"/>
<use href="#pers" transform="translate(1754 1775) scale(0.3525)"/>
<use href="#pers" transform="translate(1861.5 2542.5) scale(0.3525)"/>
<g fill="#87888a">
<path d="M252 3036.3 H276 A9 9 0 0 1 284.7 3045 V3056.3 H388 A9.2 9.2 0 0 1 397.2 3065.5 V3103 A9.2 9.2 0 0 1 389 3112.2 L284.7 3125 V3131.3 H397.2 A8 8 0 0 1 397.2 3147.3 H281 A12.3 12.3 0 0 1 268.7 3135 V3052.8 H252 A8.25 8.25 0 0 1 252 3036.3Z"/>
</g>
<path fill="#fff" d="M287 3069 H295.8 V3110 L287 3110.9Z M307.5 3069 H323 V3107 L307.5 3108.7Z M334.6 3069 H350.1 V3104.1 L334.6 3105.8Z M361.8 3069 H372 A7.6 7.6 0 0 1 379.6 3076.6 V3094 A7.6 7.6 0 0 1 373 3101.6 L361.8 3102.9Z"/>
<circle cx="305.1" cy="3164.5" r="16" fill="#f6a85a"/><circle cx="381.2" cy="3164.5" r="16" fill="#f6a85a"/>
<path fill="#87888a" d="M939.3 3016 L1012.1 3054.6 V3060.7 H866 V3054.6Z"/>
<rect x="858.8" y="3064.2" width="164.3" height="14.8" fill="#f6a85a"/>
<path fill="#87888a" d="M876.4 3085.1 H889.8 L891.9 3178.8 H872.7Z"/>
<path fill="#87888a" d="M914.2 3085.1 H928.9 L929.9 3178.8 H910.7Z"/>
<path fill="#87888a" d="M950.2 3085.1 H964.8 L967.7 3178.8 H948.9Z"/>
<path fill="#87888a" d="M988.2 3085.1 H1002.8 L1006 3178.8 H986.9Z"/>
<g fill="#87888a">
<path d="M1588.1 3021.8 L1652.7 3066.8 L1645.1 3076.9 L1588.1 3038.5 L1531.2 3076.9 L1523.9 3066.8Z"/>
<path d="M1539.9 3034.1 H1556.6 V3048 L1554 3052 V3124.5 H1541.4 V3060Z"/>
<path d="M1626.3 3060 H1639.6 V3124.5 H1626.3Z"/>
<path d="M1520.3 3140.1 L1543.5 3129.9 L1558.1 3129.2 L1568.2 3135.0 L1581.3 3145.1 L1588.8 3143.4 L1601.6 3136.4 L1613.2 3132.8 L1624.8 3132.1 L1635.0 3132.8 L1636.4 3136.4 L1645.1 3135.0 L1652.4 3135.7 L1655.0 3141.5 L1650.9 3146.6 L1639.3 3155.3 L1624.8 3165.5 L1610.3 3174.2 L1595.8 3182.1 L1581.3 3180.7 L1566.8 3174.9 L1555.2 3170.5 L1546.4 3171.3 L1534.8 3177.8Z"/>
<path fill="none" stroke="#fff" stroke-width="3" stroke-linecap="round" d="M1564.9 3157.0 C1575.5 3162.3 1592.9 3165.2 1606.0 3162.3 C1615.4 3159.4 1616.1 3152.1 1609.6 3149.8 C1601.6 3148.3 1594.3 3148.0 1588.0 3144.0"/>
</g>
<circle cx="1588.5" cy="3092.9" r="28.3" fill="#f6a85a"/>
<text x="1586" y="3110.5" font-family="Liberation Sans, sans-serif" font-weight="700" font-size="51" fill="#fff" text-anchor="middle">€</text>
<g fill="none" stroke="#87888a" stroke-linejoin="miter">
<path stroke-width="6.5" d="M294.2 3385.3 L294.2 3370.5 L312.4 3370.5 L312.4 3385.3 A32.5 32.5 0 0 1 325.8 3393.0 L338.6 3385.6 L347.7 3401.4 L334.9 3408.8 A32.5 32.5 0 0 1 334.9 3424.2 L347.7 3431.6 L338.6 3447.4 L325.8 3440.0 A32.5 32.5 0 0 1 312.4 3447.7 L312.4 3462.5 L294.2 3462.5 L294.2 3447.7 A32.5 32.5 0 0 1 280.8 3440.0 L268.0 3447.4 L258.9 3431.6 L271.7 3424.2 A32.5 32.5 0 0 1 271.7 3408.8 L258.9 3401.4 L268.0 3385.6 L280.8 3393.0 A32.5 32.5 0 0 1 294.2 3385.3Z"/>
<circle cx="303.3" cy="3416.5" r="15.2" stroke-width="7.3"/>
<path stroke-width="5.2" d="M355.3 3461.9 L355.3 3452.0 L367.5 3452.0 L367.5 3461.9 A21.8 21.8 0 0 1 376.5 3467.1 L385.0 3462.1 L391.1 3472.7 L382.6 3477.6 A21.8 21.8 0 0 1 382.6 3488.0 L391.1 3492.9 L385.0 3503.5 L376.5 3498.5 A21.8 21.8 0 0 1 367.5 3503.7 L367.5 3513.6 L355.3 3513.6 L355.3 3503.7 A21.8 21.8 0 0 1 346.3 3498.5 L337.8 3503.5 L331.7 3492.9 L340.2 3488.0 A21.8 21.8 0 0 1 340.2 3477.6 L331.7 3472.7 L337.8 3462.1 L346.3 3467.1 A21.8 21.8 0 0 1 355.3 3461.9Z"/>
</g>
<circle cx="361.4" cy="3482.8" r="13" fill="#f6a85a"/>
<path fill="#87888a" d="M925.1 3397.2 A38 20.3 0 0 1 1001.1 3397.2 V3465 A38 13 0 0 1 925.1 3465Z"/><path fill="none" stroke="#fff" stroke-width="3.2" d="M925.1 3405 A38 13 0 0 0 1001.1 3405"/><path fill="none" stroke="#fff" stroke-width="3.2" d="M925.1 3420.1 A38 13 0 0 0 1001.1 3420.1"/><path fill="none" stroke="#fff" stroke-width="3.2" d="M925.1 3435.2 A38 13 0 0 0 1001.1 3435.2"/><path fill="none" stroke="#fff" stroke-width="3.2" d="M925.1 3450.3 A38 13 0 0 0 1001.1 3450.3"/>
<text transform="translate(959.4 3411.7) scale(2.0 1)" font-family="Liberation Sans, sans-serif" font-weight="700" font-size="42" fill="#f6a85a" text-anchor="middle">€</text>
<path fill="#fff" stroke="#fff" stroke-width="7" d="M880.9 3445.3 A37.6 18.6 0 0 1 956.1 3445.3 V3482 A37.6 15.6 0 0 1 880.9 3482Z"/><path fill="#87888a" d="M880.9 3445.3 A37.6 18.6 0 0 1 956.1 3445.3 V3482 A37.6 15.6 0 0 1 880.9 3482Z"/><path fill="none" stroke="#fff" stroke-width="3.2" d="M880.9 3454.4 A37.6 15.6 0 0 0 956.1 3454.4"/><path fill="none" stroke="#fff" stroke-width="3.2" d="M880.9 3469.5 A37.6 15.6 0 0 0 956.1 3469.5"/>
<g fill="#87888a">
<rect x="1508.1" y="3375.2" width="80.9" height="9.7"/><rect x="1521.9" y="3384" width="50.1" height="78.8"/>
<path d="M1527.4 3330.5 L1534.3 3329.0 L1544.4 3366.5 L1573.9 3366.5 L1573.9 3373.3 L1539.1 3373.3Z"/>
<path d="M1655.5 3367.1 L1666.8 3367.1 L1664.9 3394.3 L1661.3 3414.7 L1655.5 3424.8 L1646.7 3428.4 L1616.3 3428.4 L1616.3 3418.3 L1640.9 3417.9 L1647.5 3414.7 L1651.1 3407.4 L1653.3 3392.9Z"/>
<path d="M1633.0 3427.7 L1643.8 3427.7 L1643.8 3450.9 L1633.0 3450.9Z"/>
<path d="M1616.3 3463.3 L1617.7 3456.7 L1622.1 3452.4 L1629.3 3450.2 L1649.7 3450.2 L1656.2 3453.1 L1659.8 3458.2 L1661.0 3463.3 L1652.8 3463.3 L1650.4 3458.9 L1647.5 3457.9 L1629.3 3457.9 L1625.7 3459.4 L1623.8 3463.3Z"/>
</g>
<path fill="#f6a85a" d="M1577.8 3361.0 L1580.7 3357.8 L1584.3 3357.0 L1609.0 3358.1 L1623.5 3353.7 L1630.8 3350.1 L1640.9 3350.1 L1648.9 3354.4 L1651.8 3362.4 L1650.4 3387.1 L1648.2 3404.5 L1645.3 3410.3 L1638.0 3413.9 L1620.6 3414.7 L1606.1 3417.6 L1601.8 3424.8 L1597.4 3439.3 L1593.0 3456.7 L1589.4 3461.4 L1582.9 3462.8 L1577.1 3460.4 L1574.6 3455.3 L1575.6 3448.0 L1580.0 3430.6 L1584.3 3414.7 L1590.1 3403.8 L1598.9 3399.4 L1614.8 3396.5 L1617.7 3375.5 L1616.3 3374.0 L1591.6 3374.0 L1581.4 3371.8 L1577.5 3366.8Z"/><circle cx="1635.1" cy="3331.2" r="18.1" fill="#f6a85a"/>
<path fill="#f6a85a" d="M251 3706.2 H332.5 V3757 A40.75 40.75 0 0 1 251 3757Z"/>
<circle cx="273.7" cy="3734.2" r="9" fill="#fff"/>
<path d="M275.8 3777 Q279 3763 294 3762.5 Q309 3763 316 3777" fill="none" stroke="#fff" stroke-width="10"/>
<path fill="#87888a" stroke="#fff" stroke-width="7" paint-order="stroke" d="M301.3 3679 H382.8 V3730 A40.75 40.75 0 0 1 301.3 3730Z"/>
<rect x="290" y="3670" width="100" height="9" fill="#fff"/>
<rect x="246" y="3696" width="50" height="10.2" fill="#fff"/>
<circle cx="323" cy="3708" r="9" fill="#fff"/><circle cx="361.1" cy="3708" r="9" fill="#fff"/>
<path fill="#fff" d="M319 3735 Q341.6 3746.6 365.2 3735 Q355 3751.5 341.5 3751.3 Q328 3751.5 319 3735Z"/>
<g fill="#87888a">
<rect x="930.1" y="3678.7" width="6.9" height="104.1" rx="3.4"/>
<path d="M911.4 3673.9 L913.1 3678.4 L919.2 3679.6 L924.4 3684.4 L926.8 3691.3 L927.1 3700.9 L930.5 3700.9 L930.5 3706.1 L926.2 3702.6 L917.4 3697.4 L912.2 3691.3 L910.5 3683.5Z"/><path d="M955.7 3673.9 L954.0 3678.4 L947.9 3679.6 L942.7 3684.4 L940.3 3691.3 L940.0 3700.9 L936.6 3700.9 L936.6 3706.1 L940.9 3702.6 L949.7 3697.4 L954.9 3691.3 L956.6 3683.5Z"/>
<path d="M911.4 3700.9 L913.1 3705.4 L919.2 3706.6 L924.4 3711.4 L926.8 3718.3 L927.1 3727.9 L930.5 3727.9 L930.5 3733.1 L926.2 3729.6 L917.4 3724.4 L912.2 3718.3 L910.5 3710.5Z"/><path d="M955.7 3700.9 L954.0 3705.4 L947.9 3706.6 L942.7 3711.4 L940.3 3718.3 L940.0 3727.9 L936.6 3727.9 L936.6 3733.1 L940.9 3729.6 L949.7 3724.4 L954.9 3718.3 L956.6 3710.5Z"/>
<path d="M911.4 3726.6 L913.1 3731.1 L919.2 3732.3 L924.4 3737.1 L926.8 3744.0 L927.1 3753.6 L930.5 3753.6 L930.5 3758.8 L926.2 3755.3 L917.4 3750.1 L912.2 3744.0 L910.5 3736.2Z"/><path d="M955.7 3726.6 L954.0 3731.1 L947.9 3732.3 L942.7 3737.1 L940.3 3744.0 L940.0 3753.6 L936.6 3753.6 L936.6 3758.8 L940.9 3755.3 L949.7 3750.1 L954.9 3744.0 L956.6 3736.2Z"/>
</g>
<path fill="#f6a85a" d="M905.3 3784 L924.4 3798.5 C940 3788 955 3781.5 963 3782 C972 3782 977 3790 976.7 3798 C977 3806 972 3813.5 963 3813.7 C955 3813.5 940 3808 924.4 3798.5 L905.3 3812Z"/>
<path d="M1562.7 3619.4 Q1578.4 3610.9 1588.2 3609.6 Q1598 3608.3 1607.8 3609.9 Q1617.6 3611.6 1626.7 3616.4 Q1635.8 3621.3 1640.4 3627.2 Q1645 3633.1 1646.7 3639.0 Q1648.3 3644.9 1646.7 3651.4 Q1645 3657.9 1641.1 3663.2 Q1637.2 3668.4 1635.2 3671.0 Q1633.2 3673.6 1633.8 3678.8 Q1634.5 3684 1636.5 3687.9 Q1638.5 3691.9 1641.4 3693.9 Q1644.3 3695.8 1639.4 3695.5 Q1634.5 3695.2 1630.0 3693.6 Q1625.4 3691.9 1621.5 3689.3 Q1617.6 3686.7 1613.8 3683.3 L1610 3680" fill="#fff" stroke="#87888a" stroke-width="2.6" stroke-linejoin="round"/>
<ellipse cx="1576.4" cy="3658" rx="51" ry="39.9" fill="#87888a"/>
<path fill="#87888a" d="M1537 3680 Q1538 3697 1530.3 3706.3 Q1548 3704 1563 3693Z"/>
<circle cx="1550.9" cy="3660.9" r="7.2" fill="#f6a85a"/>
<circle cx="1574.5" cy="3660.9" r="7.2" fill="#f6a85a"/>
<circle cx="1597.3" cy="3660.9" r="7.2" fill="#f6a85a"/>
<path fill="#9d9fa2" d="M1542.2 3888.4 L1572.4 3859 L1587 3872.8 L1573.8 3886.5 L1584.2 3898.8 L1570.9 3911 L1560.1 3900.7 L1542.2 3918.1Z"/>
<path fill="#9d9fa2" d="M1585.1 3925.7 L1598.8 3912.9 L1621.9 3936 L1608.2 3950.7Z"/>
<path fill="#f6a85a" d="M1549.5 3936 L1591.7 3894.1 L1592.2 3875.2 L1603 3865.3 L1620 3866.2 L1608.2 3880.8 L1615.8 3888.9 L1629.9 3876.1 L1630.8 3893.1 L1621.4 3904.4 L1603 3905.4 L1560.8 3947 A8 8 0 0 1 1549.5 3936Z"/>
<circle cx="1555.8" cy="3940.5" r="2.4" fill="#9d9fa2"/>
<rect x="76" y="3996" width="134.4" height="134.4" rx="17" fill="#ececec"/>
<path fill="#1a1a1a" d="M171.6 4067.2 L202.1 4062.4 L171.6 4057.6Z M160.6 4084.6 L179.6 4097.4 L166.8 4078.4Z M139.8 4089.4 L144.6 4119.9 L149.4 4089.4Z M122.4 4078.4 L109.6 4097.4 L128.6 4084.6Z M117.6 4057.6 L87.1 4062.4 L117.6 4067.2Z M128.6 4040.2 L109.6 4027.4 L122.4 4046.4Z M149.4 4035.4 L144.6 4004.9 L139.8 4035.4Z M166.8 4046.4 L179.6 4027.4 L160.6 4040.2Z"/>
<path fill="none" stroke="#ececec" stroke-width="1.3" d="M175.1 4062.4 L188.1 4062.4 M166.2 4084.0 L169.7 4087.5 M144.6 4092.9 L144.6 4105.9 M123.0 4084.0 L119.5 4087.5 M114.1 4062.4 L101.1 4062.4 M123.0 4040.8 L119.5 4037.3 M144.6 4031.9 L144.6 4018.9 M166.2 4040.8 L169.7 4037.3"/>
<circle cx="144.6" cy="4062.4" r="28" fill="#ececec"/>
<circle cx="144.6" cy="4062.4" r="24.6" fill="none" stroke="#1a1a1a" stroke-width="5.6" stroke-dasharray="3.6 1.5"/>
<circle cx="144.6" cy="4062.4" r="20" fill="#1a1a1a"/>
<circle cx="144.6" cy="4062.4" r="18.6" fill="none" stroke="#ececec" stroke-width="1.2"/>
<circle cx="144.6" cy="4062.4" r="14" fill="none" stroke="#ececec" stroke-width="5" stroke-dasharray="3 4 6 3 2 5 1.5 3"/>
<circle cx="144.6" cy="4062.4" r="6.5" fill="none" stroke="#ececec" stroke-width="5" stroke-dasharray="4 3 2 4 5 2"/>
<path d="M132.6 4050.4 q8 -6 14 0 q-2 8 -10 9z" fill="#ececec"/>
</svg>

<div class="ly"><div class="t" style="left:245.8px;top:44.5px;font-size:108.71px;color:#87888a;font-weight:700;-webkit-text-stroke:3px #87888a;transform:scaleX(0.9523);">ΠΕΡΙΦΕΡΕΙΑΚΟΙ</div>
<div class="t" style="left:243.8px;top:159.9px;font-size:128.0px;color:#e8531b;font-weight:700;-webkit-text-stroke:3.5px #e8531b;transform:scaleX(0.9491);">ΛΟΓΑΡΙΑΣΜΟΙ</div>
<div class="t" style="left:248.5px;top:308.8px;font-size:86.29px;color:#808285;-webkit-text-stroke:1.6px #fff;transform:scaleX(1.0492);">2014</div>
<div class="t" style="left:1036.5px;top:418.3px;font-size:44.57px;color:#58595b;font-weight:700;-webkit-text-stroke:1px #58595b;">σύνολο Χώρας</div>
<div class="t" style="left:1009.5px;top:465.4px;font-size:44px;color:#58595b;transform:scaleX(0.9378);">(σε τρέχουσες τιμές)</div>
<div class="t" style="left:603.5px;top:538.1px;font-size:86.14px;color:#f6a85a;font-weight:700;-webkit-text-stroke:2px #f6a85a;transform:scaleX(0.9902);">ακαθάριστη</div>
<div class="t" style="left:605.0px;top:623.1px;font-size:49.29px;color:#f6a85a;font-weight:700;-webkit-text-stroke:1.2px #f6a85a;transform:scaleX(1.0941);">προστιθέμενη αξία</div>
<div class="t" style="left:683.6px;top:691.6px;font-size:122.71px;color:#e8531b;font-weight:700;-webkit-text-stroke:3px #e8531b;transform:scaleX(0.9776);">-1,9%</div>
<div class="t" style="left:267.1px;top:879.5px;font-size:101.36px;color:#87888a;-webkit-text-stroke:2px #fff;transform:scaleX(1.0439);">157.187</div>
<div class="t" style="left:661.4px;top:937.6px;font-size:31.6px;color:#87888a;transform:scaleX(0.9072);">εκατ. ευρώ</div>
<div class="t" style="left:1623.1px;top:562.2px;font-size:40.57px;color:#f6a85a;font-weight:700;-webkit-text-stroke:1px #f6a85a;transform:scaleX(1.0331);">κατά κεφαλή Ακαθάριστο</div>
<div class="t" style="left:1616.5px;top:606.6px;font-size:61.86px;color:#f6a85a;font-weight:700;-webkit-text-stroke:1.5px #f6a85a;transform:scaleX(1.0624);">Εγχώριο Προϊόν</div>
<div class="t" style="left:1707.7px;top:691.6px;font-size:122.71px;color:#e8531b;font-weight:700;-webkit-text-stroke:3px #e8531b;transform:scaleX(0.9619);">-0,8%</div>
<div class="t" style="left:1418.3px;top:882.2px;font-size:101.86px;color:#87888a;-webkit-text-stroke:2px #fff;transform:scaleX(1.0499);">16.336</div>
<div class="t" style="left:1752.4px;top:940.7px;font-size:31.6px;color:#87888a;transform:scaleX(0.8696);">ευρώ</div>
<div class="t" style="left:274.8px;top:1088.6px;font-size:43.57px;color:#58595b;font-weight:700;-webkit-text-stroke:1px #58595b;transform:scaleX(1.0688);">κατά κεφαλή Ακαθάριστο Εγχώριο Προϊόν ανά περιφέρεια</div>
<div class="t" style="left:274.1px;top:1135.3px;font-size:44px;color:#5f6062;transform:scaleX(0.9398);">(σε τρέχουσες τιμές, σε ευρώ)</div>
<div class="t" style="left:1670.5px;top:1160.9px;font-size:41.5px;color:#636466;transform:scaleX(1.0483);">αύξηση % 2014/2013</div>
<div class="t" style="left:1669.4px;top:1228.9px;font-size:41.5px;color:#636466;transform:scaleX(1.0459);">μείωση % 2014/2013</div>
<div class="t" style="left:936.2px;top:1231.2px;font-size:52.29px;color:#808285;-webkit-text-stroke:0.9px #fff;transform:scaleX(1.1127);">12.500</div>
<div class="t" style="left:966.8px;top:1293.4px;font-size:39.86px;color:#85878a;font-weight:700;-webkit-text-stroke:0.8px #85878a;transform:scaleX(1.1122);">-1,3%</div>
<div class="t" style="left:645.7px;top:1374.7px;font-size:52.29px;color:#808285;-webkit-text-stroke:0.9px #fff;transform:scaleX(1.1095);">15.624</div>
<div class="t" style="left:676.8px;top:1435.9px;font-size:39.86px;color:#85878a;font-weight:700;-webkit-text-stroke:0.8px #85878a;transform:scaleX(1.0927);">-0,5%</div>
<div class="t" style="left:1760.1px;top:1428.7px;font-size:52.29px;color:#808285;-webkit-text-stroke:0.9px #fff;transform:scaleX(1.1487);">11.366</div>
<div class="t" style="left:1790.8px;top:1489.9px;font-size:39.86px;color:#85878a;font-weight:700;-webkit-text-stroke:0.8px #85878a;transform:scaleX(1.1122);">-1,2%</div>
<div class="t" style="left:231.1px;top:1627.2px;font-size:52.29px;color:#808285;-webkit-text-stroke:0.9px #fff;transform:scaleX(1.1487);">11.606</div>
<div class="t" style="left:263.3px;top:1689.9px;font-size:39.86px;color:#85878a;font-weight:700;-webkit-text-stroke:0.8px #85878a;transform:scaleX(1.0829);">-0,5%</div>
<div class="t" style="left:241.6px;top:1948.3px;font-size:51px;color:#f6a85a;transform:scaleX(1.1443);">14.826</div>
<div class="t" style="left:266.8px;top:1893.4px;font-size:39.86px;color:#ffffff;font-weight:700;-webkit-text-stroke:0.8px #ffffff;transform:scaleX(1.1155);">+0,5%</div>
<div class="t" style="left:311.6px;top:2190.8px;font-size:51px;color:#f6a85a;transform:scaleX(1.1278);">12.214</div>
<div class="t" style="left:336.8px;top:2131.9px;font-size:39.86px;color:#ffffff;font-weight:700;-webkit-text-stroke:0.8px #ffffff;transform:scaleX(1.1022);">+0,4%</div>
<div class="t" style="left:357.2px;top:2387.2px;font-size:52.29px;color:#808285;-webkit-text-stroke:0.9px #fff;transform:scaleX(1.1160);">13.134</div>
<div class="t" style="left:389.3px;top:2447.4px;font-size:39.86px;color:#85878a;font-weight:700;-webkit-text-stroke:0.8px #85878a;transform:scaleX(1.0975);">-1,9%</div>
<div class="t" style="left:1031.7px;top:2267.8px;font-size:51px;color:#808285;transform:scaleX(1.1344);">22.377</div>
<div class="t" style="left:1063.3px;top:2328.4px;font-size:39.86px;color:#85878a;font-weight:700;-webkit-text-stroke:0.8px #85878a;transform:scaleX(1.0975);">-0,7%</div>
<div class="t" style="left:841.6px;top:2662.8px;font-size:51px;color:#f6a85a;transform:scaleX(1.1278);">13.773</div>
<div class="t" style="left:866.8px;top:2608.4px;font-size:39.86px;color:#ffffff;font-weight:700;-webkit-text-stroke:0.8px #ffffff;transform:scaleX(1.1155);">+1,4%</div>
<div class="t" style="left:1198.1px;top:1741.8px;font-size:51px;color:#808285;transform:scaleX(1.1452);">12.237</div>
<div class="t" style="left:1229.3px;top:1801.9px;font-size:39.86px;color:#85878a;font-weight:700;-webkit-text-stroke:0.8px #85878a;transform:scaleX(1.1122);">-0,1%</div>
<div class="t" style="left:1234.1px;top:1910.8px;font-size:51px;color:#808285;transform:scaleX(1.1452);">13.917</div>
<div class="t" style="left:1265.3px;top:1971.9px;font-size:39.86px;color:#85878a;font-weight:700;-webkit-text-stroke:0.8px #85878a;transform:scaleX(1.0927);">-3,5%</div>
<div class="t" style="left:1877.7px;top:1774.7px;font-size:52.29px;color:#808285;-webkit-text-stroke:0.9px #fff;transform:scaleX(1.1264);">12.919</div>
<div class="t" style="left:1909.3px;top:1834.4px;font-size:39.86px;color:#85878a;font-weight:700;-webkit-text-stroke:0.8px #85878a;transform:scaleX(1.1024);">-0,1%</div>
<div class="t" style="left:1983.1px;top:2598.3px;font-size:51px;color:#f6a85a;transform:scaleX(1.1386);">17.899</div>
<div class="t" style="left:2007.3px;top:2543.4px;font-size:39.86px;color:#ffffff;font-weight:700;-webkit-text-stroke:0.8px #ffffff;transform:scaleX(1.1110);">+0,1%</div>
<div class="t" style="left:954.1px;top:1503.8px;font-size:25px;color:#6d6e71;transform:scaleX(0.9654);">Κεντρική Μακεδονία</div>
<div class="t" style="left:807.5px;top:1597.3px;font-size:25px;color:#6d6e71;transform:scaleX(0.9677);">Δυτική</div>
<div class="t" style="left:761.6px;top:1626.3px;font-size:25px;color:#6d6e71;transform:scaleX(0.9675);">Μακεδονία</div>
<div class="t" style="left:1259.0px;top:1492.8px;font-size:25px;color:#6d6e71;transform:scaleX(0.9482);">Ανατολική Μακεδονία, Θράκη</div>
<div class="t" style="left:688.4px;top:1707.3px;font-size:25px;color:#6d6e71;transform:scaleX(0.9113);">Ήπειρος</div>
<div class="t" style="left:568.1px;top:1954.8px;font-size:25px;color:#6d6e71;transform:scaleX(0.9382);">Ιόνια Νησιά</div>
<div class="t" style="left:699.0px;top:2198.8px;font-size:25px;color:#6d6e71;transform:scaleX(0.9274);">Δυτική Ελλάδα</div>
<div class="t" style="left:809.1px;top:2382.4px;font-size:25px;color:#6d6e71;transform:scaleX(0.9314);">Πελοπόννησος</div>
<div class="t" style="left:1163.5px;top:2093.8px;font-size:25px;color:#6d6e71;transform:scaleX(0.9632);">Αττική</div>
<div class="t" style="left:1255.6px;top:2678.8px;font-size:25px;color:#6d6e71;transform:scaleX(0.9517);">Κρήτη</div>
<div class="t" style="left:960.7px;top:1793.8px;font-size:25px;color:#6d6e71;transform:scaleX(0.9480);">Θεσσαλία</div>
<div class="t" style="left:949.1px;top:1999.8px;font-size:25px;color:#6d6e71;transform:scaleX(0.9374);">Στερεά Ελλάδα</div>
<div class="t" style="left:1607.1px;top:1829.8px;font-size:25px;color:#6d6e71;transform:scaleX(0.9454);">Βόρειο Αιγαίο</div>
<div class="t" style="left:1739.6px;top:2630.3px;font-size:25px;color:#6d6e71;transform:scaleX(0.9729);">Νότιο Αιγαίο</div>
<div class="t" style="left:581.9px;top:2828.6px;font-size:43.57px;color:#58595b;font-weight:700;-webkit-text-stroke:1px #58595b;transform:scaleX(1.0637);">ακαθάριστη προστιθέμενη αξία ανά κλάδο, σύνολο Χώρας</div>
<div class="t" style="left:894.1px;top:2874.8px;font-size:44px;color:#5f6062;transform:scaleX(0.9505);">(σε τρέχουσες τιμές, σε εκατ. ευρώ)</div>
<div class="t" style="left:430.4px;top:2994.2px;font-size:62.43px;color:#e8531b;-webkit-text-stroke:1.0px #fff;transform:scaleX(1.0406);">23,9%</div>
<div class="t" style="left:1042.5px;top:2986.2px;font-size:62.43px;color:#e8531b;-webkit-text-stroke:1.0px #fff;transform:scaleX(1.0145);">21,0%</div>
<div class="t" style="left:1687.9px;top:2996.2px;font-size:62.43px;color:#e8531b;-webkit-text-stroke:1.0px #fff;transform:scaleX(1.0321);">18,3%</div>
<div class="t" style="left:430.4px;top:3363.7px;font-size:62.43px;color:#e8531b;-webkit-text-stroke:1.0px #fff;transform:scaleX(1.0327);">13,4 %</div>
<div class="t" style="left:1043.5px;top:3362.7px;font-size:62.43px;color:#e8531b;-webkit-text-stroke:1.0px #fff;">4,9%</div>
<div class="t" style="left:1691.0px;top:3308.7px;font-size:62.43px;color:#e8531b;-webkit-text-stroke:1.0px #fff;transform:scaleX(0.9909);">4,8%</div>
<div class="t" style="left:432.5px;top:3696.2px;font-size:62.43px;color:#e8531b;-webkit-text-stroke:1.0px #fff;transform:scaleX(0.9873);">4,1%</div>
<div class="t" style="left:1042.5px;top:3696.2px;font-size:62.43px;color:#e8531b;-webkit-text-stroke:1.0px #fff;transform:scaleX(1.0052);">3,7%</div>
<div class="t" style="left:1690.0px;top:3610.2px;font-size:62.43px;color:#e8531b;-webkit-text-stroke:1.0px #fff;">3,3%</div>
<div class="t" style="left:1687.5px;top:3852.7px;font-size:62.43px;color:#e8531b;-webkit-text-stroke:1.0px #fff;transform:scaleX(1.0089);">2,5%</div>
<div class="t" style="left:234.9px;top:3193.8px;font-size:53.29px;color:#808285;-webkit-text-stroke:0.9px #fff;transform:scaleX(1.0952);">37.612</div>
<div class="t" style="left:851.4px;top:3196.8px;font-size:53.29px;color:#808285;-webkit-text-stroke:0.9px #fff;transform:scaleX(1.0851);">33.045</div>
<div class="t" style="left:1498.4px;top:3196.8px;font-size:53.29px;color:#808285;-webkit-text-stroke:0.9px #fff;transform:scaleX(1.0888);">28.787</div>
<div class="t" style="left:234.8px;top:3535.3px;font-size:53.29px;color:#808285;-webkit-text-stroke:0.9px #fff;transform:scaleX(1.1160);">21.113</div>
<div class="t" style="left:871.4px;top:3526.3px;font-size:53.29px;color:#808285;-webkit-text-stroke:0.9px #fff;transform:scaleX(1.0555);">7.655</div>
<div class="t" style="left:1516.4px;top:3484.3px;font-size:53.29px;color:#808285;-webkit-text-stroke:0.9px #fff;transform:scaleX(1.0748);">7.558</div>
<div class="t" style="left:251.4px;top:3829.3px;font-size:53.29px;color:#808285;-webkit-text-stroke:0.9px #fff;transform:scaleX(1.0941);">6.400</div>
<div class="t" style="left:868.9px;top:3827.8px;font-size:53.29px;color:#808285;-webkit-text-stroke:0.9px #fff;transform:scaleX(1.0748);">5.843</div>
<div class="t" style="left:1514.9px;top:3733.8px;font-size:53.29px;color:#808285;-webkit-text-stroke:0.9px #fff;transform:scaleX(1.0863);">5.238</div>
<div class="t" style="left:1513.4px;top:3969.3px;font-size:53.29px;color:#808285;-webkit-text-stroke:0.9px #fff;transform:scaleX(1.0863);">3.935</div>
<div class="t" style="left:432.5px;top:3065.2px;font-size:34px;color:#5f6062;">χονδρικό και λιανικό</div>
<div class="t" style="left:431.5px;top:3103.7px;font-size:34px;color:#5f6062;transform:scaleX(1.0079);">εμπόριο, μεταφορά και</div>
<div class="t" style="left:431.5px;top:3142.7px;font-size:34px;color:#5f6062;transform:scaleX(0.9816);">αποθήκευση, στέγαση</div>
<div class="t" style="left:430.5px;top:3181.2px;font-size:34px;color:#5f6062;transform:scaleX(0.9931);">και υπηρεσίες εστίασης</div>
<div class="t" style="left:1043.0px;top:3053.7px;font-size:34px;color:#5f6062;transform:scaleX(0.9862);">δημόσια διοίκηση,</div>
<div class="t" style="left:1043.0px;top:3092.7px;font-size:34px;color:#5f6062;transform:scaleX(0.9888);">άμυνα, εκπαίδευση,</div>
<div class="t" style="left:1043.0px;top:3131.2px;font-size:34px;color:#5f6062;transform:scaleX(1.0083);">δραστηριότητες σχετικές</div>
<div class="t" style="left:1042.0px;top:3170.2px;font-size:34px;color:#5f6062;transform:scaleX(0.9898);">με την ανθρώπινη υγεία</div>
<div class="t" style="left:1042.0px;top:3209.7px;font-size:34px;color:#5f6062;transform:scaleX(1.0058);">και την κοινωνική μέριμνα</div>
<div class="t" style="left:1689.0px;top:3073.7px;font-size:34px;color:#5f6062;transform:scaleX(1.0021);">διαχείριση ακίνητης</div>
<div class="t" style="left:1689.0px;top:3112.7px;font-size:34px;color:#5f6062;transform:scaleX(0.9777);">περιουσίας</div>
<div class="t" style="left:431.5px;top:3432.2px;font-size:34px;color:#5f6062;transform:scaleX(1.0215);">ορυχεία και λατομεία,</div>
<div class="t" style="left:430.5px;top:3471.2px;font-size:34px;color:#5f6062;transform:scaleX(0.9876);">μεταποίηση, παροχή</div>
<div class="t" style="left:431.5px;top:3510.2px;font-size:34px;color:#5f6062;transform:scaleX(1.0125);">ηλεκτρικού ρευματος,</div>
<div class="t" style="left:431.5px;top:3548.7px;font-size:34px;color:#5f6062;transform:scaleX(0.9879);">παροχή νερού</div>
<div class="t" style="left:1044.0px;top:3432.2px;font-size:34px;color:#5f6062;transform:scaleX(0.9882);">χρηματοπιστωτικές</div>
<div class="t" style="left:1042.0px;top:3471.2px;font-size:34px;color:#5f6062;transform:scaleX(1.0070);">και ασφαλιστικές</div>
<div class="t" style="left:1043.0px;top:3510.2px;font-size:34px;color:#5f6062;transform:scaleX(1.0151);">δραστηριότητες</div>
<div class="t" style="left:1689.0px;top:3376.2px;font-size:34px;color:#5f6062;transform:scaleX(0.9863);">επαγγελματικές, επιστημονικές</div>
<div class="t" style="left:1688.0px;top:3415.2px;font-size:34px;color:#5f6062;transform:scaleX(1.0211);">και τεχνικές δραστηριότητες,</div>
<div class="t" style="left:1689.0px;top:3453.7px;font-size:34px;color:#5f6062;transform:scaleX(1.0204);">διοικητικές δραστηριότητες</div>
<div class="t" style="left:1688.0px;top:3492.7px;font-size:34px;color:#5f6062;transform:scaleX(1.0041);">και δραστηριότητες υποστήριξης</div>
<div class="t" style="left:432.5px;top:3780.2px;font-size:34px;color:#5f6062;transform:scaleX(0.9929);">τέχνες, διασκέδαση,</div>
<div class="t" style="left:430.5px;top:3823.7px;font-size:34px;color:#5f6062;">ψυχαγωγία και</div>
<div class="t" style="left:431.5px;top:3866.2px;font-size:34px;color:#5f6062;transform:scaleX(0.9707);">άλλες υπηρεσίες</div>
<div class="t" style="left:1044.0px;top:3787.2px;font-size:34px;color:#5f6062;transform:scaleX(0.9825);">γεωργία, δασοκομία</div>
<div class="t" style="left:1041.9px;top:3830.2px;font-size:34px;color:#5f6062;transform:scaleX(1.0353);">και αλιεία</div>
<div class="t" style="left:1689.0px;top:3693.7px;font-size:34px;color:#5f6062;transform:scaleX(0.9808);">ενημέρωση και</div>
<div class="t" style="left:1689.0px;top:3736.2px;font-size:34px;color:#5f6062;transform:scaleX(0.9697);">επικοινωνία</div>
<div class="t" style="left:1687.9px;top:3921.2px;font-size:34px;color:#5f6062;transform:scaleX(1.0251);">κατασκευές</div>
<div class="t" style="left:223.2px;top:4023.4px;font-size:32.0px;color:#1a1a1a;-webkit-text-stroke:0.7px #1a1a1a;transform:scaleX(0.7875);">infographic</div>
<div class="t" style="left:223.1px;top:4054.6px;font-size:39.71px;color:#1a1a1a;font-weight:700;-webkit-text-stroke:1.6px #1a1a1a;transform:scaleX(0.8311);">ΕΛΣΤΑΤ</div>
<div class="t" style="left:384.9px;top:4026.6px;font-size:27.6px;color:#e8531b;font-weight:700;transform:scaleX(1.1003);">17 Ιανουαρίου 2017</div>
<div class="t" style="left:385.0px;top:4064.1px;font-size:27.6px;color:#e8531b;font-weight:700;transform:scaleX(1.0067);">Πηγή:  Ελληνική Στατιστική Αρχή</div>
<div class="t" style="left:19.6px;top:3774.2px;font-size:142px;color:#ffffff;-webkit-text-stroke:1.8px #c6c7c9;transform:rotate(-90deg) scaleX(1.0185);">ακαθάριστη</div>
<div class="t" style="left:19.6px;top:2994.4px;font-size:142px;color:#ffffff;-webkit-text-stroke:1.8px #c6c7c9;transform:rotate(-90deg) scaleX(0.9667);">προστιθέμενη</div>
<div class="t" style="left:19.6px;top:2100.2px;font-size:142px;color:#ffffff;-webkit-text-stroke:1.8px #c6c7c9;transform:rotate(-90deg) scaleX(0.9771);">αξία</div>
<div class="t" style="left:19.6px;top:1793.0px;font-size:142px;color:#ffffff;-webkit-text-stroke:1.8px #c6c7c9;transform:rotate(-90deg) scaleX(0.9597);">και</div>
<div class="t" style="left:19.6px;top:1570.4px;font-size:142px;color:#ffffff;-webkit-text-stroke:1.8px #c6c7c9;transform:rotate(-90deg) scaleX(1.0632);">κατά</div>
<div class="t" style="left:19.6px;top:1227.6px;font-size:142px;color:#ffffff;-webkit-text-stroke:1.8px #c6c7c9;transform:rotate(-90deg) scaleX(1.0073);">κεφαλή</div>
<div class="t" style="left:19.6px;top:725.9px;font-size:142px;color:#ffffff;-webkit-text-stroke:1.8px #c6c7c9;transform:rotate(-90deg) scaleX(0.9573);">ΑΕΠ*</div></div>

</body></html>
